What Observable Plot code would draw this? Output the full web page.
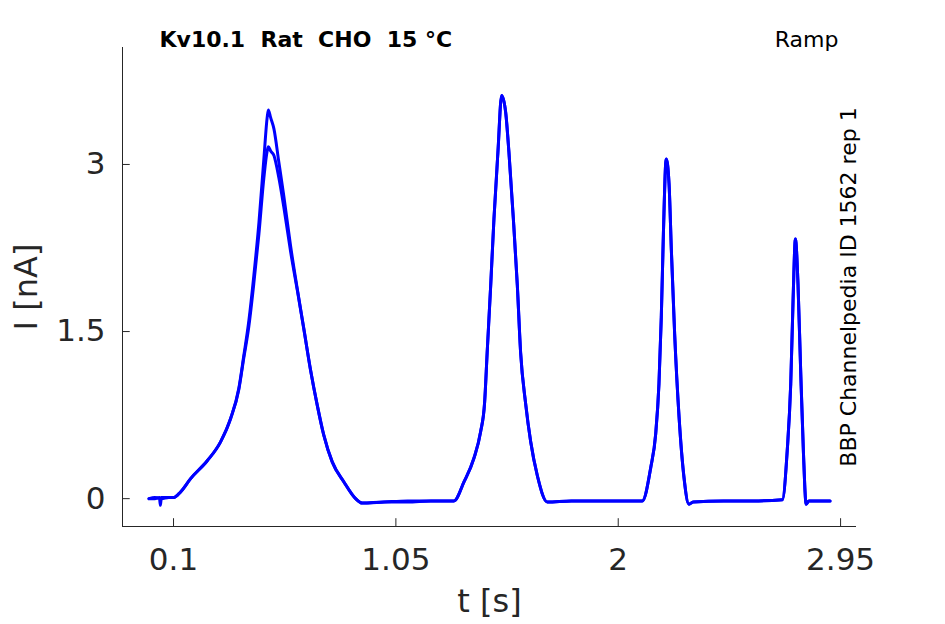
<!DOCTYPE html>
<html>
<head>
<meta charset="utf-8">
<script src="https://cdn.jsdelivr.net/npm/d3@7"></script>
<script src="https://cdn.jsdelivr.net/npm/@observablehq/plot@0.6"></script>
<style>
  html, body { margin: 0; padding: 0; background: #fff; }
  svg text { white-space: pre; }
</style>
</head>
<body>
<div id="chart"></div>
<script>
const titleText = "Kv10.1  Rat  CHO  15 °C";
const protocolText = "Ramp";
const sourceText = "BBP Channelpedia ID 1562 rep 1";
const xLabel = "t [s]";
const yLabel = "I [nA]";

const xTicks = [0.1, 1.05, 2, 2.95];
const xTickLabels = ["0.1", "1.05", "2", "2.95"];
const yTicks = [0, 1.5, 3];
const yTickLabels = ["0", "1.5", "3"];

const time = [-0.005, 0.02, 0.04, 0.044, 0.048, 0.08, 0.101, 0.13, 0.173, 0.244, 0.301, 0.344, 0.379, 0.4, 0.422, 0.443, 0.465, 0.486, 0.5, 0.505, 0.515, 0.529, 0.55, 0.571, 0.6, 0.629, 0.657, 0.685, 0.714, 0.742, 0.778, 0.828, 0.878, 0.906, 1.0, 1.1, 1.2, 1.298, 1.341, 1.383, 1.412, 1.429, 1.44, 1.455, 1.469, 1.486, 1.502, 1.519, 1.533, 1.552, 1.569, 1.583, 1.604, 1.626, 1.654, 1.697, 1.8, 1.9, 2.0, 2.103, 2.139, 2.16, 2.174, 2.184, 2.193, 2.205, 2.217, 2.227, 2.241, 2.26, 2.281, 2.302, 2.32, 2.45, 2.6, 2.701, 2.722, 2.737, 2.747, 2.757, 2.768, 2.779, 2.791, 2.803, 2.815, 2.905];

const sweep1 = [0.0, 0.01, 0.0, -0.06, 0.01, 0.01, 0.01, 0.06, 0.18, 0.34, 0.51, 0.72, 0.99, 1.28, 1.6, 2.0, 2.48, 3.05, 3.42, 3.49, 3.42, 3.32, 3.02, 2.72, 2.27, 1.88, 1.52, 1.16, 0.84, 0.57, 0.33, 0.15, 0.0, -0.04, -0.03, -0.02, -0.02, -0.02, 0.15, 0.36, 0.6, 0.86, 1.31, 1.91, 2.51, 3.11, 3.62, 3.47, 3.11, 2.51, 1.91, 1.31, 0.86, 0.51, 0.21, -0.03, -0.02, -0.02, -0.02, -0.02, 0.28, 0.58, 1.03, 1.63, 2.38, 3.05, 2.83, 2.23, 1.48, 0.73, 0.19, -0.05, -0.03, -0.02, -0.02, -0.01, 0.43, 1.03, 1.78, 2.33, 1.93, 1.18, 0.43, -0.05, -0.02, -0.02];

const sweep2 = [0.0, 0.0, 0.01, 0.0, 0.0, 0.01, 0.01, 0.06, 0.18, 0.34, 0.51, 0.72, 0.98, 1.26, 1.55, 1.93, 2.38, 2.88, 3.12, 3.16, 3.12, 3.08, 2.88, 2.62, 2.22, 1.87, 1.52, 1.16, 0.84, 0.57, 0.33, 0.15, 0.0, -0.04, -0.03, -0.03, -0.02, -0.02, 0.15, 0.36, 0.6, 0.86, 1.31, 1.91, 2.51, 3.11, 3.62, 3.47, 3.11, 2.51, 1.91, 1.31, 0.86, 0.51, 0.21, -0.03, -0.02, -0.02, -0.02, -0.02, 0.28, 0.58, 1.03, 1.63, 2.38, 3.05, 2.83, 2.23, 1.48, 0.73, 0.19, -0.05, -0.03, -0.02, -0.02, -0.01, 0.43, 1.03, 1.78, 2.33, 1.93, 1.18, 0.43, -0.05, -0.02, -0.02];

const xDomain = [-0.118, 3.018];
const yDomain = [-0.25, 4.05];

const rows = [];
[sweep1, sweep2].forEach((s, k) => s.forEach((v, i) => rows.push({t: time[i], I: v, sweep: k})));

const ink = "#262626";
const font = "DejaVu Sans";

const chart = Plot.plot({
  width: 945,
  height: 624,
  marginLeft: 122,
  marginRight: 89,
  marginTop: 47,
  marginBottom: 98,
  x: {domain: xDomain, axis: null},
  y: {domain: yDomain, axis: null},
  style: {fontFamily: font, background: "#fff", color: ink},
  marks: [
    Plot.ruleX([xDomain[0]], {stroke: ink, strokeWidth: 1}),
    Plot.ruleY([yDomain[0]], {stroke: ink, strokeWidth: 1}),
    Plot.ruleX(xTicks, {x: d => d, y1: yDomain[0], y2: yDomain[0] + 0.07, stroke: ink}),
    Plot.ruleY(yTicks, {y: d => d, x1: xDomain[0], x2: xDomain[0] + 0.033, stroke: ink}),
    Plot.text(xTicks, {x: d => d, text: (d, i) => xTickLabels[i], frameAnchor: "bottom", dy: 34, fontSize: 31, fill: ink, lineAnchor: "middle"}),
    Plot.text(yTicks, {y: d => d, text: (d, i) => yTickLabels[i], frameAnchor: "left", dx: -17, textAnchor: "end", fontSize: 31, fill: ink}),
    Plot.text([xLabel], {frameAnchor: "bottom", dy: 85, fontSize: 32, fill: ink, textAnchor: "middle"}),
    Plot.text([yLabel], {frameAnchor: "left", dx: -96, rotate: -90, textAnchor: "middle", fontSize: 32, fill: ink}),
    Plot.line(rows, {x: "t", y: "I", z: "sweep", stroke: "#0000ff", strokeWidth: 3, curve: "monotone-x"}),
    Plot.text([titleText], {frameAnchor: "top-left", dx: 37, dy: -1, lineAnchor: "bottom", textAnchor: "start", fontWeight: "bold", fontSize: 22, fill: "#000"}),
    Plot.text([protocolText], {frameAnchor: "top-right", dx: -18, dy: -1, lineAnchor: "bottom", textAnchor: "end", fontSize: 22, fill: "#000"}),
    Plot.text([sourceText], {frameAnchor: "right", dx: -8, rotate: -90, textAnchor: "middle", fontSize: 22, fill: "#000"})
  ]
});
document.getElementById("chart").appendChild(chart);
</script>
</body>
</html>
